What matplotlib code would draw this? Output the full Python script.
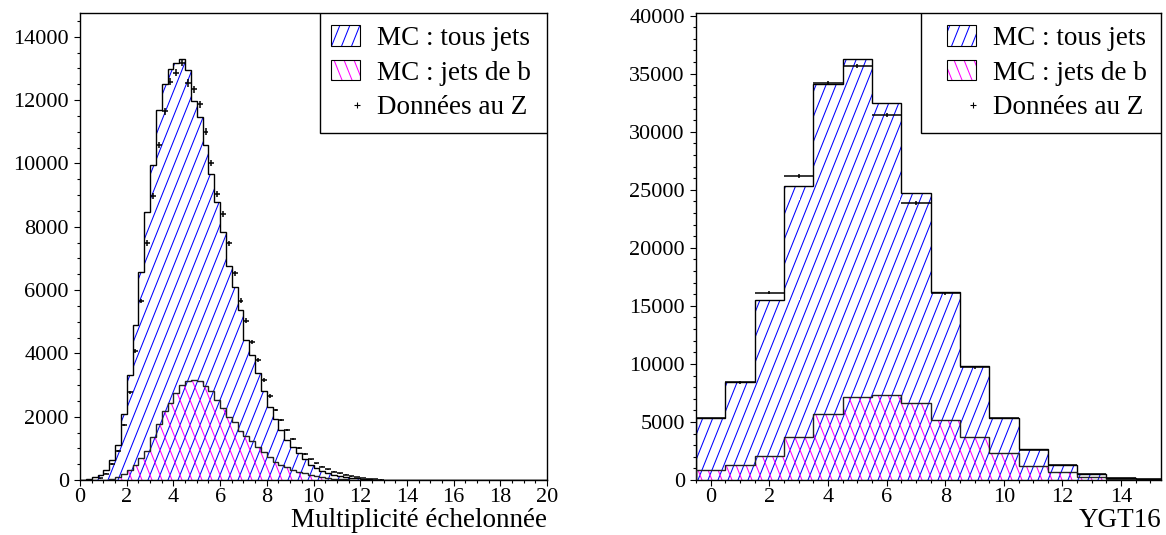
import numpy as np
import matplotlib
matplotlib.use("Agg")
import matplotlib.pyplot as plt
from matplotlib import hatch as mhatch
from matplotlib.path import Path
from matplotlib.patches import Patch, Rectangle
from matplotlib.lines import Line2D
from matplotlib.legend_handler import HandlerBase
from matplotlib.ticker import MultipleLocator

# ---------------------------------------------------------------- data
# scaled multiplicity, 0.25-wide bins from 0 to 20
mult_edges = np.linspace(0.0, 20.0, 81)
mult_first_bin = 1            # first non-empty bin (0.25 - 0.5)
mult_mc_all = [20, 80, 160, 320, 620, 1100, 2100, 3320, 4900, 6560, 8480,
               9950, 11700, 12500, 12980, 13160, 13290, 12950, 11980, 11470,
               10580, 9660, 8770, 7845, 6770, 6107, 5370, 4423, 3950, 3370,
               2822, 2317, 1916, 1580, 1264, 1053, 863, 653, 474, 368, 284,
               210, 158, 126, 105, 74, 50, 35, 25, 15, 8]
mult_b_first_bin = 5          # first non-empty b bin (1.25 - 1.5)
mult_mc_b = [30, 90, 180, 330, 470, 690, 930, 1370, 1770, 2180, 2440, 2740,
             2990, 3120, 3170, 3130, 2980, 2800, 2530, 2285, 2000, 1820, 1560,
             1390, 1230, 1050, 895, 740, 580, 475, 400, 316, 253, 210, 158,
             120, 90, 65, 45, 30, 20, 12, 8]
mult_data_first_bin = 3       # first data bin (0.75 - 1.0)
mult_data = [50, 200, 505, 916, 1740, 2770, 4075, 5655, 7480, 8980, 10580,
             11640, 12580, 12860, 13180, 12540, 12340, 11870, 11000, 10010,
             9040, 8400, 7476, 6530, 5665, 5033, 4370, 3790, 3160, 2654, 2211,
             1895, 1580, 1285, 1021, 821, 653, 527, 421, 337, 263, 210, 168,
             120, 90, 60, 40, 25, 15]

# YGT16, one bin per integer value
ygt_values = np.arange(0, 16)
ygt_mc_all = [5300, 8400, 15500, 25300, 34100, 36300, 32500, 24700, 16200,
              9800, 5300, 2650, 1300, 520, 170, 80]
ygt_mc_b = [860, 1290, 2100, 3740, 5690, 7180, 7360, 6670, 5170, 3680, 2300,
            1240, 660, 260, 115, 30]
ygt_data = [5300, 8400, 16150, 26180, 34200, 35660, 31470, 23850, 16100,
            9700, 5300, 2600, 1250, 500, 150, 70]

label_all = "MC : tous jets"
label_b = "MC : jets de b"
label_data = "Données au Z"

BLUE = "#0000ff"
MAGENTA = "#ff00ff"


# ------------------------------------------------- steep hatch patterns
class _SteepHatch(mhatch.HatchPatternBase):
    """Hatch lines at ~68 degrees: 10 lines per inch, shift 0.4 per unit."""
    char = "/"
    sign = 1
    lines_per_unit = 10
    shift = 4                  # horizontal shift over one unit, in line steps

    def __init__(self, hatch, density):
        count = hatch.count(self.char)
        self.n = self.lines_per_unit * count
        self.m = self.shift * count
        self.num_vertices = 2 * (self.n + self.m) if self.n else 0

    def set_vertices_and_codes(self, vertices, codes):
        n, m = self.n, self.m
        offs = np.arange(-m, n) / n
        s = m / n
        if self.sign > 0:
            x0, x1 = offs, offs + s
        else:
            x0, x1 = 1.0 - offs, 1.0 - offs - s
        vertices[0::2, 0] = x0
        vertices[0::2, 1] = 0.0
        vertices[1::2, 0] = x1
        vertices[1::2, 1] = 1.0
        codes[0::2] = Path.MOVETO
        codes[1::2] = Path.LINETO


class _SteepNE(_SteepHatch):
    char = "/"
    sign = 1


class _SteepSE(_SteepHatch):
    char = "\\"
    sign = -1


mhatch._hatch_types = [h for h in mhatch._hatch_types
                       if h not in (mhatch.NorthEastHatch, mhatch.SouthEastHatch)]
mhatch._hatch_types += [_SteepNE, _SteepSE]

plt.rcParams["font.family"] = ["Liberation Serif", "DejaVu Serif"]
plt.rcParams["hatch.linewidth"] = 0.75


class RightPlusHandler(HandlerBase):
    def create_artists(self, legend, orig_handle, xdescent, ydescent,
                       width, height, fontsize, trans):
        ln = Line2D([width - xdescent - 2], [height / 2 - ydescent],
                    marker="+", ms=5, mew=0.8, color="black", ls="none",
                    transform=trans)
        return [ln]


def padded(values, first, nbins):
    out = np.zeros(nbins)
    out[first:first + len(values)] = values
    return out


def draw_panel(ax, edges, mc_all, mc_b, data, xlabel):
    centers = 0.5 * (edges[:-1] + edges[1:])
    half = 0.5 * np.diff(edges)
    ax.stairs(mc_all, edges, fill=True, facecolor="none", edgecolor=BLUE,
              linewidth=0, hatch="/", zorder=1)
    ax.stairs(mc_b, edges, fill=True, facecolor="none", edgecolor=MAGENTA,
              linewidth=0, hatch="\\", zorder=2)
    ax.stairs(mc_all, edges, fill=False, edgecolor="black", linewidth=1.0,
              zorder=3)
    ax.stairs(mc_b, edges, fill=False, edgecolor="#222222", linewidth=1.0,
              zorder=3)
    m = data > 0
    ax.errorbar(centers[m], data[m], xerr=half[m], yerr=np.sqrt(data[m]),
                fmt="none", ecolor="black", elinewidth=1.1, capsize=0,
                zorder=4)

    for s in ax.spines.values():
        s.set_linewidth(1.0)
    ax.tick_params(which="both", direction="out", top=False, right=False,
                   labelsize=16, width=0.8, colors="black")
    ax.tick_params(which="major", length=4.0, pad=4)
    ax.tick_params(which="minor", length=2.2)
    ax.tick_params(axis="x", which="major", pad=2)
    ax.ticklabel_format(style="plain", useOffset=False)
    ax.text(1.0, -0.1006, xlabel, transform=ax.transAxes, ha="right",
            va="baseline", fontsize=19.5)


fig = plt.figure(figsize=(11.66, 5.35), dpi=100)
W, H = 1166.0, 535.0
ax1 = fig.add_axes([80 / W, 55 / H, 467 / W, 467 / H])
ax2 = fig.add_axes([696 / W, 55 / H, 465 / W, 467 / H])

nb = len(mult_edges) - 1
draw_panel(ax1, mult_edges,
           padded(mult_mc_all, mult_first_bin, nb),
           padded(mult_mc_b, mult_b_first_bin, nb),
           padded(mult_data, mult_data_first_bin, nb),
           "Multiplicité échelonnée")
ax1.set_xlim(0, 20)
ax1.set_ylim(0, 14750)
ax1.xaxis.set_major_locator(MultipleLocator(2))
ax1.xaxis.set_minor_locator(MultipleLocator(0.5))
ax1.yaxis.set_major_locator(MultipleLocator(2000))
ax1.yaxis.set_minor_locator(MultipleLocator(500))

ygt_edges = np.append(ygt_values - 0.5, ygt_values[-1] + 0.5)
draw_panel(ax2, ygt_edges, np.array(ygt_mc_all, float),
           np.array(ygt_mc_b, float), np.array(ygt_data, float), "YGT16")
ax2.set_xlim(-0.5, 15.36)
ax2.set_ylim(0, 40230)
ax2.xaxis.set_major_locator(MultipleLocator(2))
ax2.xaxis.set_minor_locator(MultipleLocator(0.5))
ax2.yaxis.set_major_locator(MultipleLocator(5000))
ax2.yaxis.set_minor_locator(MultipleLocator(1000))


def add_legend(ax, box_left, text_right):
    h_all = (Patch(facecolor="none", edgecolor=BLUE, hatch="/", linewidth=0),
             Patch(facecolor="none", edgecolor="black", linewidth=0.8))
    h_b = (Patch(facecolor="none", edgecolor=MAGENTA, hatch="\\", linewidth=0),
           Patch(facecolor="none", edgecolor="black", linewidth=0.8))
    h_d = Line2D([], [], marker="+", color="black", ls="none")
    leg = ax.legend([h_all, h_b, h_d], [label_all, label_b, label_data],
                    handler_map={h_d: RightPlusHandler()},
                    loc="upper right", bbox_to_anchor=(text_right, 0.9734),
                    borderaxespad=0, borderpad=0, frameon=False,
                    fontsize=19.5, handlelength=1.07, handleheight=0.78,
                    handletextpad=0.63, labelspacing=0.33)
    leg.set_zorder(6)
    ax.add_patch(Rectangle((box_left, 0.743), 1 - box_left, 1 - 0.743,
                           transform=ax.transAxes, facecolor="white",
                           edgecolor="black", linewidth=1.0, zorder=5))


add_legend(ax1, 0.514, 0.9657)
add_legend(ax2, 0.484, 0.970)

fig.savefig("out.png", dpi=100)
